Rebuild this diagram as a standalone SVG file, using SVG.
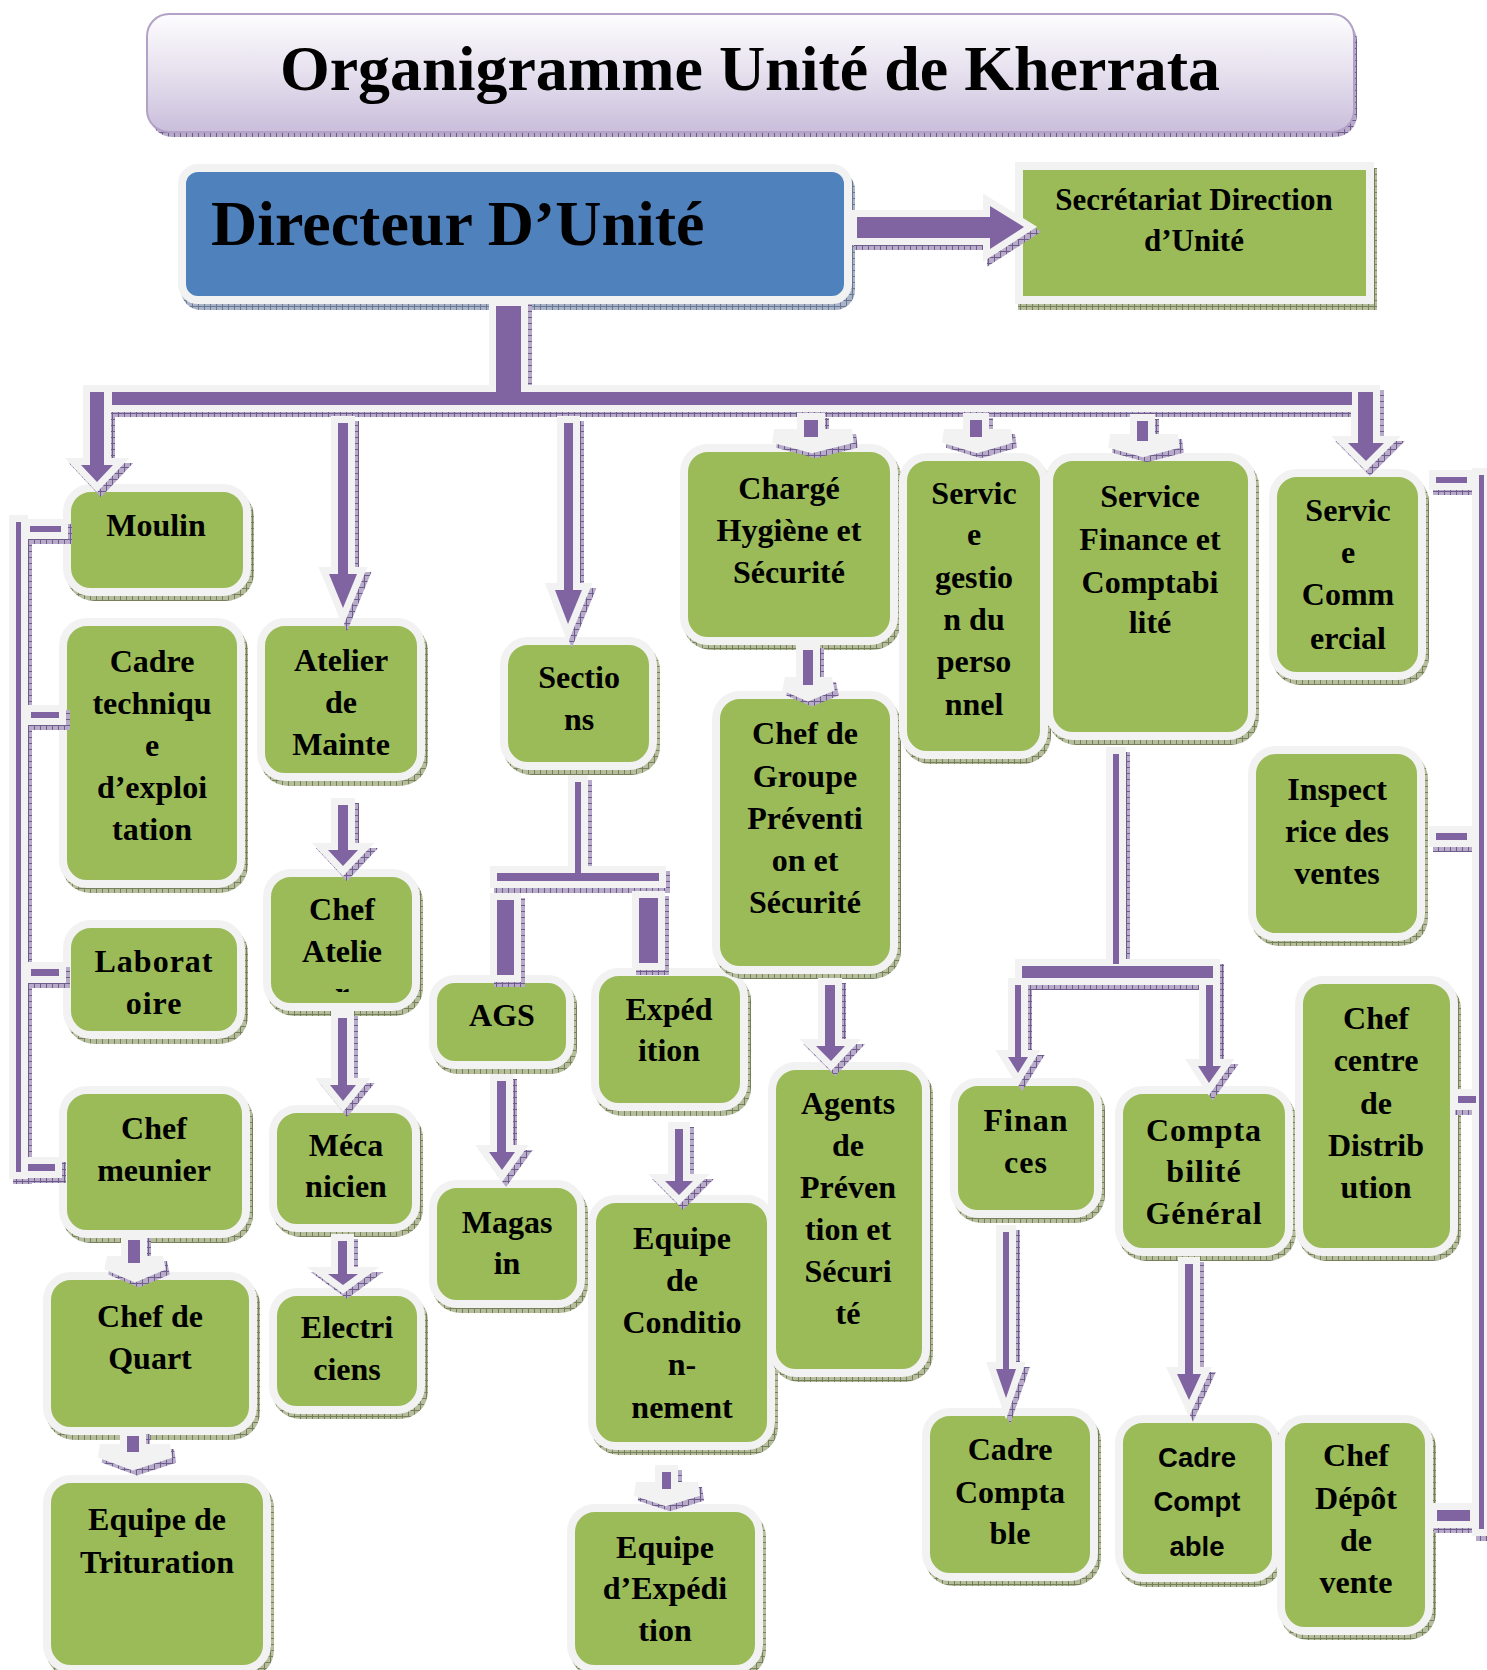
<svg xmlns="http://www.w3.org/2000/svg" xmlns:xlink="http://www.w3.org/1999/xlink" width="1487" height="1670" viewBox="0 0 1487 1670">
<style>
.ns{fill:url(#hG)}
.nb{fill:#9bbb59;stroke:#f2f2f2;stroke-width:8}
.t{font-family:"Liberation Serif","Times New Roman",serif;font-weight:bold;font-size:32px;text-anchor:middle;fill:#000}
.ts{font-family:"Liberation Sans",Arial,sans-serif;font-weight:bold;font-size:27.5px;text-anchor:middle;fill:#000}
</style>
<defs>
<pattern id="hP" width="6" height="6" patternUnits="userSpaceOnUse"><rect width="6" height="6" fill="#b7abc9"/><path d="M0 .5H6M.5 0V6" stroke="#6e5d8c" stroke-width="1"/></pattern>
<pattern id="hG" width="6" height="6" patternUnits="userSpaceOnUse"><rect width="6" height="6" fill="#b5bd9c"/><path d="M0 .5H6M.5 0V6" stroke="#76815c" stroke-width="1"/></pattern>
<pattern id="hB" width="6" height="6" patternUnits="userSpaceOnUse"><rect width="6" height="6" fill="#a9b4c8"/><path d="M0 .5H6M.5 0V6" stroke="#6a7893" stroke-width="1"/></pattern>
<linearGradient id="gT" x1="0" y1="0" x2="0" y2="1"><stop offset="0" stop-color="#fdfdfe"/><stop offset="0.5" stop-color="#e6e0ee"/><stop offset="1" stop-color="#cabedb"/></linearGradient>
<clipPath id="cpAt"><rect x="271" y="877" width="141" height="115"/></clipPath>
<g id="cs">
<polygon points="857,217 990,217 990,206 1024,227 990,249 990,238 857,238"/>
<rect x="496" y="306" width="25" height="90"/>
<rect x="112" y="392" width="1240" height="13"/>
<polygon points="90,392 104,392 104,465 113,465 97,482 81,465 90,465"/>
<polygon points="1358,392 1373,392 1373,443 1384,443 1366,461 1348,443 1358,443"/>
<polygon points="338,423 348,423 348,574 357,574 343,608 329,574 338,574"/>
<polygon points="338,805 348,805 348,850 358,850 343,866 328,850 338,850"/>
<polygon points="338,1018 347,1018 347,1085 356,1085 343,1101 330,1085 338,1085"/>
<polygon points="338,1241 347,1241 347,1274 358,1274 343,1285 328,1274 338,1274"/>
<rect x="128" y="1240" width="12" height="23"/>
<rect x="127" y="1436" width="12" height="16"/>
<polygon points="564,423 573,423 573,590 582,590 568,624 555,590 564,590"/>
<rect x="575" y="782" width="6" height="91"/>
<rect x="497" y="873" width="162" height="8"/>
<rect x="497" y="900" width="17" height="75"/>
<rect x="639" y="898" width="19" height="65"/>
<polygon points="497,1081 506,1081 506,1152 515,1152 502,1170 489,1152 497,1152"/>
<polygon points="675,1129 683,1129 683,1181 693,1181 679,1195 665,1181 675,1181"/>
<rect x="662" y="1472" width="9" height="17"/>
<rect x="804" y="420" width="14" height="17"/>
<rect x="803" y="650" width="10" height="35"/>
<polygon points="825,985 835,985 835,1046 845,1046 831,1061 816,1046 825,1046"/>
<rect x="970" y="420" width="12" height="17"/>
<rect x="1137" y="421" width="11" height="20"/>
<rect x="1113" y="754" width="6" height="210"/>
<rect x="1022" y="966" width="191" height="12"/>
<polygon points="1015,985 1021,985 1021,1057 1028,1057 1018,1073 1008,1057 1015,1057"/>
<polygon points="1206,985 1213,985 1213,1066 1221,1066 1209,1083 1198,1066 1206,1066"/>
<polygon points="1003,1232 1009,1232 1009,1369 1016,1369 1006,1398 996,1369 1003,1369"/>
<polygon points="1185,1264 1193,1264 1193,1374 1201,1374 1189,1400 1177,1374 1185,1374"/>
<rect x="16" y="522" width="5" height="650"/>
<rect x="30" y="526" width="31" height="6"/>
<rect x="31" y="712" width="28" height="6"/>
<rect x="31" y="969" width="28" height="7"/>
<rect x="28" y="1164" width="27" height="7"/>
<rect x="1479" y="475" width="5" height="1054"/>
<rect x="1436" y="477" width="31" height="6"/>
<rect x="1436" y="833" width="31" height="7"/>
<rect x="1458" y="1096" width="18" height="7"/>
<rect x="1437" y="1510" width="33" height="11"/>
</g>
<g id="cw">
<polygon points="774,436 852,436 812,446"/>
<polygon points="944,436 1011,436 977,446"/>
<polygon points="1110,441 1178,441 1143,450"/>
<polygon points="785,684 832,684 808,694"/>
<polygon points="107,1263 163,1263 135,1275"/>
<polygon points="100,1451 170,1451 133,1463"/>
<polygon points="636,1489 698,1489 666,1499"/>
</g>
</defs>

<g id="title">
<rect x="150" y="19" width="1207" height="118" rx="22" fill="url(#hP)"/>
<rect x="147" y="14" width="1207" height="118" rx="22" fill="url(#gT)" stroke="#b3a2c7" stroke-width="2"/>
<text x="750" y="90" class="t" style="font-size:64px">Organigramme Unité de Kherrata</text>
</g>

<g id="n-directeur">
<rect x="181" y="170" width="674" height="140" rx="20" fill="url(#hB)"/>
<rect x="182" y="168" width="666" height="132" rx="16" fill="#4f81bd" stroke="#f2f2f2" stroke-width="8"/>
<text x="211" y="245" class="t" style="font-size:64px;text-anchor:start">Directeur D’Unité</text>
</g>

<g id="n-secretariat">
<rect x="1018" y="168" width="359" height="142" fill="url(#hG)"/>
<rect x="1019" y="166" width="351" height="134" fill="#9bbb59" stroke="#f2f2f2" stroke-width="8"/>
<text x="1194" y="210" class="t" style="font-size:31px">Secrétariat Direction</text>
<text x="1194" y="251" class="t" style="font-size:31px">d’Unité</text>
</g>

<g id="n-moulin">
<rect class="ns" x="66" y="489" width="188" height="112" rx="28"/>
<rect class="nb" x="67" y="488" width="180" height="104" rx="24"/>
<text class="t" x="156" y="536">Moulin</text>
</g>

<g id="n-cadre-technique">
<rect class="ns" x="62" y="623" width="186" height="270" rx="28"/>
<rect class="nb" x="63" y="622" width="178" height="262" rx="24"/>
<text class="t" x="152" y="672">Cadre</text>
<text class="t" x="152" y="714">techniqu</text>
<text class="t" x="152" y="756">e</text>
<text class="t" x="152" y="798">d’exploi</text>
<text class="t" x="152" y="840">tation</text>
</g>

<g id="n-laboratoire">
<rect class="ns" x="66" y="925" width="182" height="119" rx="28"/>
<rect class="nb" x="67" y="924" width="174" height="111" rx="24"/>
<text class="t" x="154" y="972" letter-spacing="1">Laborat</text>
<text class="t" x="154" y="1014" letter-spacing="1">oire</text>
</g>

<g id="n-chef-meunier">
<rect class="ns" x="62" y="1091" width="191" height="152" rx="28"/>
<rect class="nb" x="63" y="1090" width="183" height="144" rx="24"/>
<text class="t" x="154" y="1139">Chef</text>
<text class="t" x="154" y="1181">meunier</text>
</g>

<g id="n-chef-quart">
<rect class="ns" x="46" y="1277" width="214" height="163" rx="28"/>
<rect class="nb" x="47" y="1276" width="206" height="155" rx="24"/>
<text class="t" x="150" y="1327">Chef de</text>
<text class="t" x="150" y="1369">Quart</text>
</g>

<g id="n-equipe-trituration">
<rect class="ns" x="46" y="1480" width="228" height="198" rx="28"/>
<rect class="nb" x="47" y="1479" width="220" height="190" rx="24"/>
<text class="t" x="157" y="1530">Equipe de</text>
<text class="t" x="157" y="1573">Trituration</text>
</g>

<g id="n-atelier">
<rect class="ns" x="260" y="623" width="168" height="163" rx="28"/>
<rect class="nb" x="261" y="622" width="160" height="155" rx="24"/>
<text class="t" x="341" y="671">Atelier</text>
<text class="t" x="341" y="713">de</text>
<text class="t" x="341" y="755">Mainte</text>
</g>

<g id="n-chef-atelier">
<rect class="ns" x="266" y="874" width="157" height="142" rx="28"/>
<rect class="nb" x="267" y="873" width="149" height="134" rx="24"/>
<g clip-path="url(#cpAt)">
<text class="t" x="342" y="920">Chef</text>
<text class="t" x="342" y="962">Atelie</text>
<text class="t" x="342" y="1004">r</text>
</g>
</g>

<g id="n-mecanicien">
<rect class="ns" x="272" y="1110" width="151" height="127" rx="28"/>
<rect class="nb" x="273" y="1109" width="143" height="119" rx="24"/>
<text class="t" x="346" y="1156">Méca</text>
<text class="t" x="346" y="1197">nicien</text>
</g>

<g id="n-electriciens">
<rect class="ns" x="272" y="1293" width="156" height="126" rx="28"/>
<rect class="nb" x="273" y="1292" width="148" height="118" rx="24"/>
<text class="t" x="347" y="1338">Electri</text>
<text class="t" x="347" y="1380">ciens</text>
</g>

<g id="n-sections">
<rect class="ns" x="503" y="642" width="157" height="133" rx="28"/>
<rect class="nb" x="504" y="641" width="149" height="125" rx="24"/>
<text class="t" x="579" y="688">Sectio</text>
<text class="t" x="579" y="730">ns</text>
</g>

<g id="n-ags">
<rect class="ns" x="432" y="980" width="145" height="94" rx="26"/>
<rect class="nb" x="433" y="979" width="137" height="86" rx="22"/>
<text class="t" x="502" y="1026">AGS</text>
</g>

<g id="n-expedition">
<rect class="ns" x="594" y="973" width="157" height="143" rx="28"/>
<rect class="nb" x="595" y="972" width="149" height="135" rx="24"/>
<text class="t" x="669" y="1020">Expéd</text>
<text class="t" x="669" y="1061">ition</text>
</g>

<g id="n-magasin">
<rect class="ns" x="432" y="1185" width="156" height="128" rx="28"/>
<rect class="nb" x="433" y="1184" width="148" height="120" rx="24"/>
<text class="t" x="507" y="1233">Magas</text>
<text class="t" x="507" y="1274">in</text>
</g>

<g id="n-conditionnement">
<rect class="ns" x="591" y="1200" width="187" height="255" rx="28"/>
<rect class="nb" x="592" y="1199" width="179" height="247" rx="24"/>
<text class="t" x="682" y="1249">Equipe</text>
<text class="t" x="682" y="1291">de</text>
<text class="t" x="682" y="1333">Conditio</text>
<text class="t" x="682" y="1375">n-</text>
<text class="t" x="682" y="1418">nement</text>
</g>

<g id="n-equipe-expedition">
<rect class="ns" x="570" y="1509" width="196" height="169" rx="28"/>
<rect class="nb" x="571" y="1508" width="188" height="161" rx="24"/>
<text class="t" x="665" y="1558">Equipe</text>
<text class="t" x="665" y="1599">d’Expédi</text>
<text class="t" x="665" y="1641">tion</text>
</g>

<g id="n-charge-hygiene">
<rect class="ns" x="683" y="449" width="218" height="201" rx="28"/>
<rect class="nb" x="684" y="448" width="210" height="193" rx="24"/>
<text class="t" x="789" y="499">Chargé</text>
<text class="t" x="789" y="541">Hygiène et</text>
<text class="t" x="789" y="583">Sécurité</text>
</g>

<g id="n-chef-groupe">
<rect class="ns" x="715" y="696" width="186" height="283" rx="28"/>
<rect class="nb" x="716" y="695" width="178" height="275" rx="24"/>
<text class="t" x="805" y="744">Chef de</text>
<text class="t" x="805" y="787">Groupe</text>
<text class="t" x="805" y="829">Préventi</text>
<text class="t" x="805" y="871">on et</text>
<text class="t" x="805" y="913">Sécurité</text>
</g>

<g id="n-agents">
<rect class="ns" x="771" y="1067" width="162" height="315" rx="28"/>
<rect class="nb" x="772" y="1066" width="154" height="307" rx="24"/>
<text class="t" x="848" y="1114">Agents</text>
<text class="t" x="848" y="1156">de</text>
<text class="t" x="848" y="1198">Préven</text>
<text class="t" x="848" y="1240">tion et</text>
<text class="t" x="848" y="1282">Sécuri</text>
<text class="t" x="848" y="1324">té</text>
</g>

<g id="n-service-gestion">
<rect class="ns" x="902" y="458" width="149" height="306" rx="28"/>
<rect class="nb" x="903" y="457" width="141" height="298" rx="24"/>
<text class="t" x="974" y="504">Servic</text>
<text class="t" x="974" y="545">e</text>
<text class="t" x="974" y="588">gestio</text>
<text class="t" x="974" y="630">n du</text>
<text class="t" x="974" y="672">perso</text>
<text class="t" x="974" y="715">nnel</text>
</g>

<g id="n-service-finance">
<rect class="ns" x="1048" y="458" width="211" height="287" rx="28"/>
<rect class="nb" x="1049" y="457" width="203" height="279" rx="24"/>
<text class="t" x="1150" y="507">Service</text>
<text class="t" x="1150" y="550">Finance et</text>
<text class="t" x="1150" y="593">Comptabi</text>
<text class="t" x="1150" y="633">lité</text>
</g>

<g id="n-service-commercial">
<rect class="ns" x="1272" y="474" width="157" height="211" rx="28"/>
<rect class="nb" x="1273" y="473" width="149" height="203" rx="24"/>
<text class="t" x="1348" y="521">Servic</text>
<text class="t" x="1348" y="563">e</text>
<text class="t" x="1348" y="605">Comm</text>
<text class="t" x="1348" y="649">ercial</text>
</g>

<g id="n-inspectrice">
<rect class="ns" x="1251" y="751" width="177" height="195" rx="28"/>
<rect class="nb" x="1252" y="750" width="169" height="187" rx="24"/>
<text class="t" x="1337" y="800">Inspect</text>
<text class="t" x="1337" y="842">rice des</text>
<text class="t" x="1337" y="884">ventes</text>
</g>

<g id="n-finances">
<rect class="ns" x="953" y="1083" width="152" height="140" rx="28"/>
<rect class="nb" x="954" y="1082" width="144" height="132" rx="24"/>
<text class="t" x="1026" y="1131" letter-spacing="1">Finan</text>
<text class="t" x="1026" y="1173" letter-spacing="1">ces</text>
</g>

<g id="n-comptabilite-generale">
<rect class="ns" x="1118" y="1091" width="178" height="170" rx="28"/>
<rect class="nb" x="1119" y="1090" width="170" height="162" rx="24"/>
<text class="t" x="1204" y="1141" letter-spacing="1">Compta</text>
<text class="t" x="1204" y="1182" letter-spacing="1">bilité</text>
<text class="t" x="1204" y="1224" letter-spacing="1">Général</text>
</g>

<g id="n-chef-centre">
<rect class="ns" x="1298" y="981" width="163" height="280" rx="28"/>
<rect class="nb" x="1299" y="980" width="155" height="272" rx="24"/>
<text class="t" x="1376" y="1029">Chef</text>
<text class="t" x="1376" y="1071">centre</text>
<text class="t" x="1376" y="1114">de</text>
<text class="t" x="1376" y="1156">Distrib</text>
<text class="t" x="1376" y="1198">ution</text>
</g>

<g id="n-cadre-comptable-1">
<rect class="ns" x="925" y="1413" width="176" height="173" rx="28"/>
<rect class="nb" x="926" y="1412" width="168" height="165" rx="24"/>
<text class="t" x="1010" y="1460">Cadre</text>
<text class="t" x="1010" y="1503">Compta</text>
<text class="t" x="1010" y="1544">ble</text>
</g>

<g id="n-cadre-comptable-2">
<rect class="ns" x="1118" y="1420" width="165" height="167" rx="28"/>
<rect class="nb" x="1119" y="1419" width="157" height="159" rx="24"/>
<text class="ts" x="1197" y="1467">Cadre</text>
<text class="ts" x="1197" y="1511">Compt</text>
<text class="ts" x="1197" y="1556">able</text>
</g>

<g id="n-chef-depot">
<rect class="ns" x="1280" y="1420" width="156" height="220" rx="28"/>
<rect class="nb" x="1281" y="1419" width="148" height="212" rx="24"/>
<text class="t" x="1356" y="1466">Chef</text>
<text class="t" x="1356" y="1509">Dépôt</text>
<text class="t" x="1356" y="1551">de</text>
<text class="t" x="1356" y="1593">vente</text>
</g>

<g id="connectors">
<g transform="translate(4,5)" fill="url(#hP)" stroke="url(#hP)" stroke-width="14">
<use xlink:href="#cs" href="#cs"/>
<use xlink:href="#cw" href="#cw"/>
</g>
<g fill="#f2f2f2" stroke="#f2f2f2" stroke-width="14">
<use xlink:href="#cs" href="#cs"/>
<use xlink:href="#cw" href="#cw"/>
</g>
<use xlink:href="#cs" href="#cs" fill="#8064a2"/>
</g>
</svg>
